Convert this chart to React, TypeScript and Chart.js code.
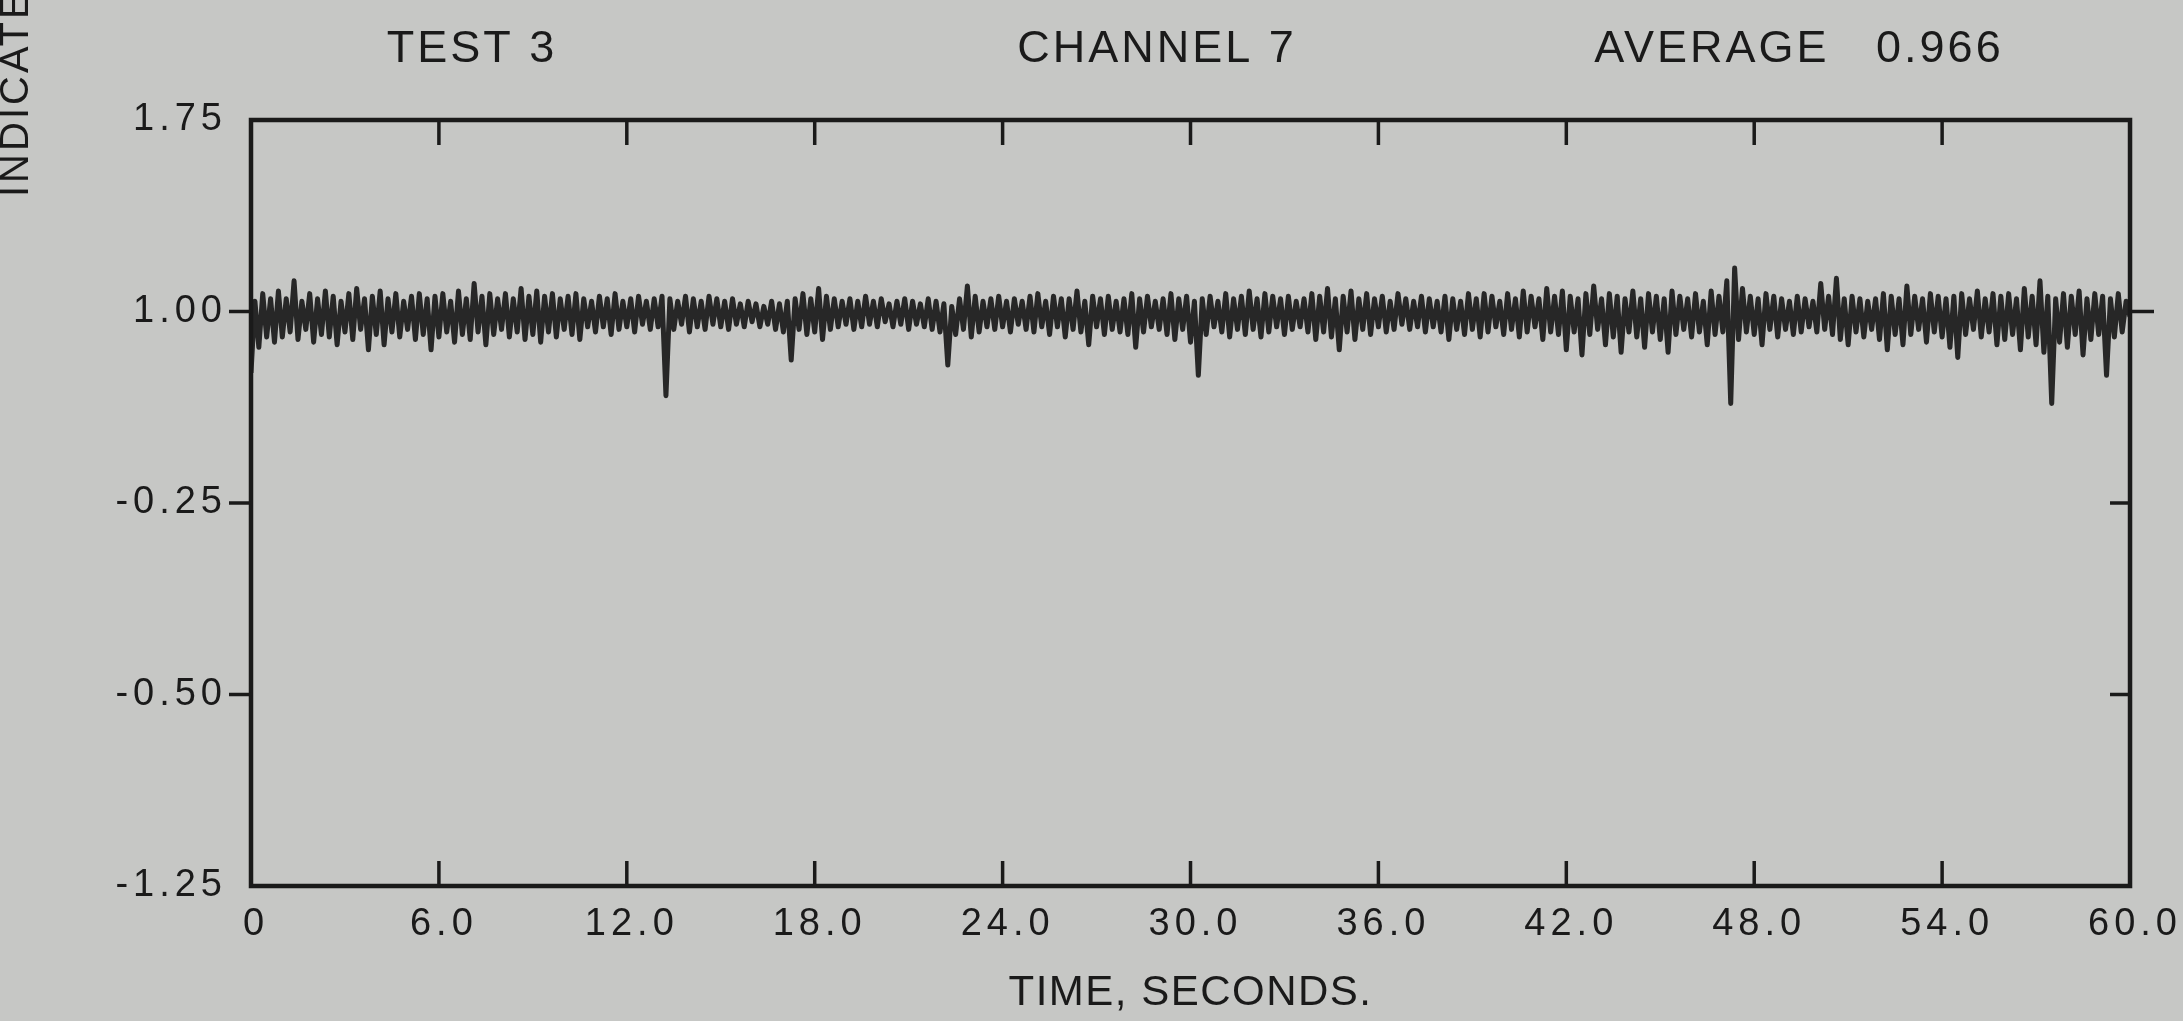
import React, { useEffect, useRef } from "react";
import { Chart, registerables } from "chart.js";

Chart.register(...registerables);

// ---- data ----
const headerLabels = ["TEST 3", "CHANNEL 7", "AVERAGE   0.966"];
const xAxisTitle = "TIME, SECONDS.";
const yAxisTitle = "INDICATED";

const xTickValues = [0, 6, 12, 18, 24, 30, 36, 42, 48, 54, 60];
const xTickLabels = ["0", "6.0", "12.0", "18.0", "24.0", "30.0", "36.0", "42.0", "48.0", "54.0", "60.0"];

const yTickValues = [-1.25, -0.5, 0.25, 1.0, 1.75];
const yTickLabels = ["-1.25", "-0.50", "-0.25", "1.00", "1.75"];

// sample spacing: 8 samples per second, 0 .. 60 s
const sampleStep = 0.125;
const signal = [
  0.76, 1.04, 0.86, 1.07, 0.90, 1.05, 0.88, 1.08,
  0.90, 1.05, 0.92, 1.12, 0.89, 1.04, 0.93, 1.07,
  0.88, 1.05, 0.91, 1.08, 0.90, 1.06, 0.87, 1.04,
  0.92, 1.07, 0.89, 1.09, 0.93, 1.05, 0.85, 1.06,
  0.91, 1.08, 0.87, 1.05, 0.92, 1.07, 0.90, 1.04,
  0.93, 1.06, 0.89, 1.07, 0.91, 1.05, 0.85, 1.06,
  0.90, 1.07, 0.92, 1.04, 0.88, 1.08, 0.91, 1.05,
  0.89, 1.11, 0.92, 1.06, 0.87, 1.07, 0.91, 1.05,
  0.93, 1.07, 0.90, 1.05, 0.92, 1.09, 0.89, 1.06,
  0.91, 1.08, 0.88, 1.06, 0.92, 1.07, 0.90, 1.05,
  0.93, 1.06, 0.91, 1.07, 0.89, 1.05, 0.94, 1.04,
  0.92, 1.06, 0.94, 1.05, 0.91, 1.07, 0.93, 1.04,
  0.94, 1.05, 0.92, 1.06, 0.95, 1.04, 0.93, 1.05,
  0.94, 1.06, 0.67, 1.05, 0.93, 1.04, 0.95, 1.06,
  0.92, 1.05, 0.94, 1.04, 0.93, 1.06, 0.95, 1.05,
  0.94, 1.04, 0.93, 1.05, 0.95, 1.03, 0.94, 1.04,
  0.96, 1.03, 0.94, 1.02, 0.95, 1.04, 0.93, 1.03,
  0.92, 1.04, 0.81, 1.05, 0.93, 1.07, 0.91, 1.05,
  0.92, 1.09, 0.89, 1.06, 0.93, 1.05, 0.94, 1.04,
  0.95, 1.05, 0.93, 1.04, 0.94, 1.06, 0.95, 1.04,
  0.94, 1.05, 0.96, 1.03, 0.94, 1.04, 0.95, 1.05,
  0.93, 1.04, 0.95, 1.03, 0.94, 1.05, 0.93, 1.04,
  0.92, 1.03, 0.79, 1.02, 0.91, 1.05, 0.93, 1.10,
  0.90, 1.06, 0.92, 1.04, 0.94, 1.05, 0.93, 1.06,
  0.94, 1.04, 0.92, 1.05, 0.95, 1.04, 0.93, 1.06,
  0.92, 1.07, 0.94, 1.04, 0.91, 1.06, 0.94, 1.05,
  0.90, 1.05, 0.93, 1.08, 0.92, 1.04, 0.87, 1.06,
  0.94, 1.05, 0.91, 1.06, 0.93, 1.04, 0.92, 1.05,
  0.91, 1.07, 0.86, 1.05, 0.92, 1.06, 0.94, 1.04,
  0.93, 1.05, 0.91, 1.07, 0.89, 1.05, 0.93, 1.06,
  0.88, 1.04, 0.75, 1.05, 0.91, 1.06, 0.94, 1.04,
  0.92, 1.07, 0.90, 1.05, 0.93, 1.06, 0.91, 1.08,
  0.93, 1.05, 0.90, 1.07, 0.92, 1.06, 0.94, 1.05,
  0.91, 1.06, 0.93, 1.04, 0.94, 1.05, 0.92, 1.07,
  0.89, 1.06, 0.92, 1.09, 0.90, 1.05, 0.85, 1.06,
  0.92, 1.08, 0.89, 1.05, 0.93, 1.07, 0.91, 1.05,
  0.94, 1.06, 0.92, 1.04, 0.93, 1.07, 0.95, 1.05,
  0.93, 1.04, 0.94, 1.06, 0.92, 1.05, 0.94, 1.04,
  0.92, 1.06, 0.89, 1.05, 0.93, 1.04, 0.91, 1.07,
  0.93, 1.05, 0.90, 1.07, 0.92, 1.06, 0.94, 1.04,
  0.91, 1.07, 0.93, 1.05, 0.90, 1.08, 0.92, 1.06,
  0.94, 1.05, 0.89, 1.09, 0.92, 1.06, 0.91, 1.08,
  0.85, 1.06, 0.92, 1.05, 0.83, 1.07, 0.91, 1.10,
  0.93, 1.05, 0.87, 1.07, 0.90, 1.06, 0.84, 1.05,
  0.92, 1.08, 0.90, 1.05, 0.86, 1.07, 0.92, 1.06,
  0.89, 1.05, 0.84, 1.08, 0.91, 1.06, 0.93, 1.05,
  0.90, 1.07, 0.92, 1.04, 0.87, 1.08, 0.91, 1.06,
  0.92, 1.12, 0.64, 1.17, 0.89, 1.09, 0.92, 1.06,
  0.91, 1.05, 0.87, 1.07, 0.93, 1.06, 0.90, 1.05,
  0.93, 1.04, 0.91, 1.06, 0.92, 1.05, 0.94, 1.04,
  0.92, 1.11, 0.93, 1.06, 0.91, 1.13, 0.89, 1.05,
  0.87, 1.06, 0.92, 1.05, 0.90, 1.04, 0.93, 1.05,
  0.89, 1.07, 0.85, 1.06, 0.91, 1.05, 0.87, 1.10,
  0.91, 1.06, 0.93, 1.05, 0.88, 1.07, 0.92, 1.06,
  0.90, 1.05, 0.86, 1.06, 0.82, 1.07, 0.91, 1.05,
  0.93, 1.08, 0.90, 1.05, 0.92, 1.07, 0.87, 1.06,
  0.89, 1.07, 0.91, 1.05, 0.85, 1.09, 0.90, 1.06,
  0.87, 1.12, 0.84, 1.06, 0.64, 1.05, 0.88, 1.07,
  0.86, 1.06, 0.91, 1.08, 0.83, 1.05, 0.89, 1.07,
  0.91, 1.06, 0.75, 1.05, 0.90, 1.07, 0.92, 1.04,
  0.98,
];

// ---- styling ----
const W = 2183;
const H = 1021;
const PAPER = "#c6c7c5";
const INK = "#1a1a1a";
const TRACE = "#272727";
const FONT = "'Liberation Sans', Arial, sans-serif";

const paperPlugin = {
  id: "paper",
  beforeDraw(chart: any) {
    const { ctx } = chart;
    ctx.fillStyle = PAPER;
    ctx.fillRect(0, 0, chart.width, chart.height);
    // spaced plotter lettering for the tick labels
    ctx.letterSpacing = "5px";
  },
};

const framePlugin = {
  id: "frame",
  afterDatasetsDraw(chart: any) {
    const { ctx, chartArea: a, scales } = chart;
    const x = scales.x;
    const y = scales.y;
    const seg = (x1: number, y1: number, x2: number, y2: number) => {
      ctx.beginPath();
      ctx.moveTo(x1, y1);
      ctx.lineTo(x2, y2);
      ctx.stroke();
    };
    ctx.save();
    ctx.strokeStyle = INK;
    ctx.lineWidth = 4.5;
    ctx.strokeRect(a.left, a.top, a.right - a.left, a.bottom - a.top);
    ctx.lineWidth = 3.5;
    // inward x ticks on top and bottom
    xTickValues.slice(1, -1).forEach((v) => {
      const px = x.getPixelForValue(v);
      seg(px, a.top, px, a.top + 25);
      seg(px, a.bottom, px, a.bottom - 25);
    });
    // y ticks: outward on the left, right side mixed
    yTickValues.slice(1, -1).forEach((v) => {
      const py = y.getPixelForValue(v);
      seg(a.left - 22, py, a.left, py);
      if (v === 1.0) seg(a.right, py, a.right + 24, py);
      else seg(a.right - 20, py, a.right, py);
    });
    ctx.restore();
  },
};

const textPlugin = {
  id: "texts",
  afterDraw(chart: any) {
    const { ctx, chartArea: a } = chart;
    ctx.save();
    ctx.fillStyle = INK;
    ctx.font = `45px ${FONT}`;
    ctx.letterSpacing = "3px";
    ctx.textBaseline = "alphabetic";
    ctx.textAlign = "center";
    const centers = [472, 1157, 1799];
    headerLabels.forEach((t, i) => ctx.fillText(t, centers[i], 62));
    // x axis title
    ctx.font = `42px ${FONT}`;
    ctx.letterSpacing = "1.5px";
    ctx.textBaseline = "middle";
    ctx.fillText(xAxisTitle, (a.left + a.right) / 2, 993);
    // rotated y axis title, partly cut off at the top
    ctx.font = `40px ${FONT}`;
    ctx.letterSpacing = "3px";
    ctx.translate(28, 197);
    ctx.rotate(-Math.PI / 2);
    ctx.textAlign = "left";
    ctx.textBaseline = "alphabetic";
    ctx.fillText(yAxisTitle, 0, 0);
    ctx.restore();
  },
};

export default function App() {
  const ref = useRef<HTMLCanvasElement | null>(null);

  useEffect(() => {
    const prevMargin = document.body.style.margin;
    document.body.style.margin = "0";
    const canvas = ref.current;
    if (!canvas) return;
    const points = signal.map((v, i) => ({ x: i * sampleStep, y: v }));
    const chart = new Chart(canvas, {
      type: "line",
      data: {
        datasets: [
          {
            data: points,
            borderColor: TRACE,
            borderWidth: 5,
            borderJoinStyle: "round",
            pointRadius: 0,
            tension: 0,
            fill: false,
          },
        ],
      },
      options: {
        animation: false,
        responsive: false,
        devicePixelRatio: 1,
        layout: { padding: { top: 120, right: 51, left: 0, bottom: 0 } },
        plugins: { legend: { display: false }, tooltip: { enabled: false }, title: { display: false } },
        scales: {
          x: {
            type: "linear",
            min: 0,
            max: 60,
            afterFit: (s: any) => {
              s.height = 135;
            },
            afterBuildTicks: (s: any) => {
              s.ticks = xTickValues.map((v) => ({ value: v }));
            },
            grid: { display: false, drawTicks: false },
            border: { display: false },
            ticks: {
              autoSkip: false,
              maxRotation: 0,
              padding: 16,
              labelOffset: 5,
              color: INK,
              font: { family: FONT, size: 38 },
              callback: (_v: any, i: number) => xTickLabels[i],
            },
            title: { display: false },
          },
          y: {
            type: "linear",
            min: -1.25,
            max: 1.75,
            afterFit: (s: any) => {
              s.width = 251;
            },
            afterBuildTicks: (s: any) => {
              s.ticks = yTickValues.map((v) => ({ value: v }));
            },
            grid: { display: false, drawTicks: false },
            border: { display: false },
            ticks: {
              padding: 24,
              color: INK,
              font: { family: FONT, size: 38 },
              callback: (_v: any, i: number) => yTickLabels[i],
            },
          },
        },
      },
      plugins: [paperPlugin, framePlugin, textPlugin],
    });
    return () => {
      chart.destroy();
      document.body.style.margin = prevMargin;
    };
  }, []);

  return (
    <div style={{ position: "fixed", left: 0, top: 0, width: W, height: H, background: PAPER }}>
      <canvas ref={ref} width={W} height={H} style={{ width: W, height: H, display: "block" }} />
    </div>
  );
}
